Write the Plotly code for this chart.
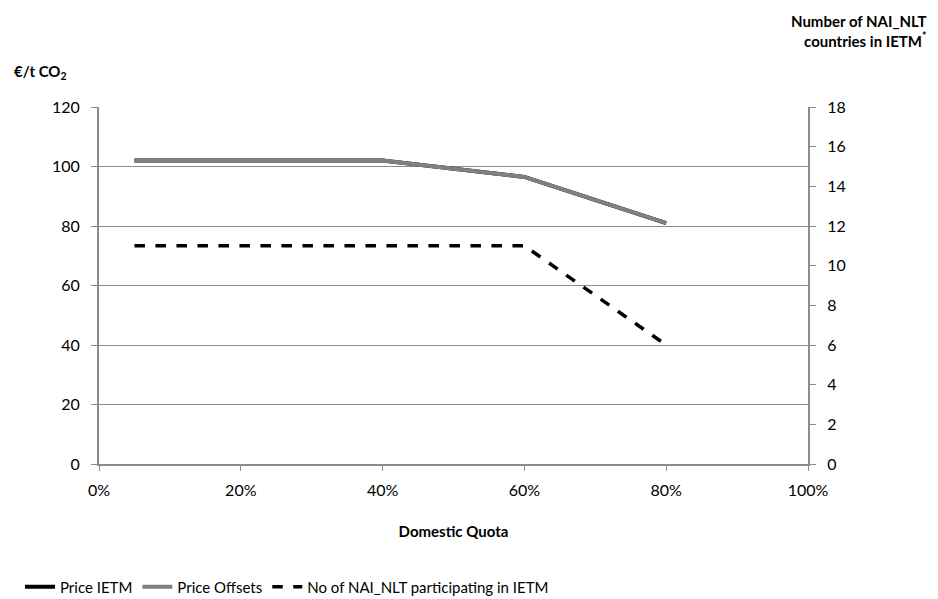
import plotly.graph_objects as go

# domestic quota (share) and series values
quota = [0.05, 0.2, 0.4, 0.6, 0.8]
price_ietm = [102, 102, 102, 96.5, 81]
price_offsets = [102, 102, 102, 96.5, 81]
n_countries = [11, 11, 11, 11, 6]

font = "Lato, 'Open Sans', sans-serif"
grid = "#8c8c8c"

# page body adds an 8px offset, so work in figure pixels = screen pixels - 8
OFF = 8
W, H = 938 - OFF, 599 - OFF
L, T = 99 - OFF, 107 - OFF
R = W - (808 - OFF)
B = H - (464 - OFF)

fig = go.Figure()
fig.add_trace(go.Scatter(x=quota, y=price_ietm, name="Price IETM", mode="lines",
                         line=dict(color="black", width=4)))
fig.add_trace(go.Scatter(x=quota, y=price_offsets, name="Price Offsets", mode="lines",
                         line=dict(color="#808080", width=4)))
fig.add_trace(go.Scatter(x=quota, y=n_countries, name="No of NAI_NLT participating in IETM",
                         mode="lines", yaxis="y2",
                         line=dict(color="black", width=3.5, dash="dash")))

pw, ph = W - L - R, H - T - B


def px(x, y):
    # screen pixel -> paper coords
    return (x - OFF - L) / pw, (H - B - (y - OFF)) / ph


ax1, ay1 = px(12, 72)
ax2, ay2 = px(928, 31)
lx, ly = px(20, 587)

fig.update_layout(
    width=W, height=H,
    margin=dict(l=L, r=R, t=T, b=B, autoexpand=False),
    plot_bgcolor="white", paper_bgcolor="white",
    font=dict(family=font, size=16, color="black"),
    showlegend=True,
    legend=dict(orientation="h", x=lx, xanchor="left", y=ly, yanchor="middle",
                font=dict(size=15), traceorder="normal"),
    xaxis=dict(range=[0, 1], tickvals=[0, 0.2, 0.4, 0.6, 0.8, 1.0], tickformat=".0%",
               showgrid=False, showline=True, linecolor=grid, linewidth=2,
               ticks="outside", tickcolor=grid, ticklen=5, zeroline=False,
               ticklabelstandoff=6,
               title=dict(text="<b>Domestic Quota</b>", font=dict(size=15), standoff=28)),
    yaxis=dict(range=[0, 120], tickvals=[0, 20, 40, 60, 80, 100, 120],
               showgrid=True, gridcolor=grid, gridwidth=1.2,
               showline=True, linecolor=grid, linewidth=2, ticklabelstandoff=8,
               ticks="outside", tickcolor=grid, ticklen=6, zeroline=False),
    yaxis2=dict(range=[0, 18], tickvals=list(range(0, 19, 2)), overlaying="y", side="right",
                showgrid=False, showline=True, linecolor=grid, linewidth=2,
                ticklabelstandoff=8,
                ticks="outside", tickcolor=grid, ticklen=6, zeroline=False),
    annotations=[
        dict(text="<b>€/t CO<sub>2</sub></b>", x=ax1, y=ay1, xref="paper", yref="paper",
             xanchor="left", yanchor="middle", showarrow=False, font=dict(size=15)),
        dict(text="<b>Number of NAI_NLT<br>countries in IETM<sup>*</sup></b>",
             x=ax2, y=ay2, xref="paper", yref="paper", xanchor="right", yanchor="middle",
             align="right", showarrow=False, font=dict(size=15)),
    ],
)

fig.write_html("out.html")
